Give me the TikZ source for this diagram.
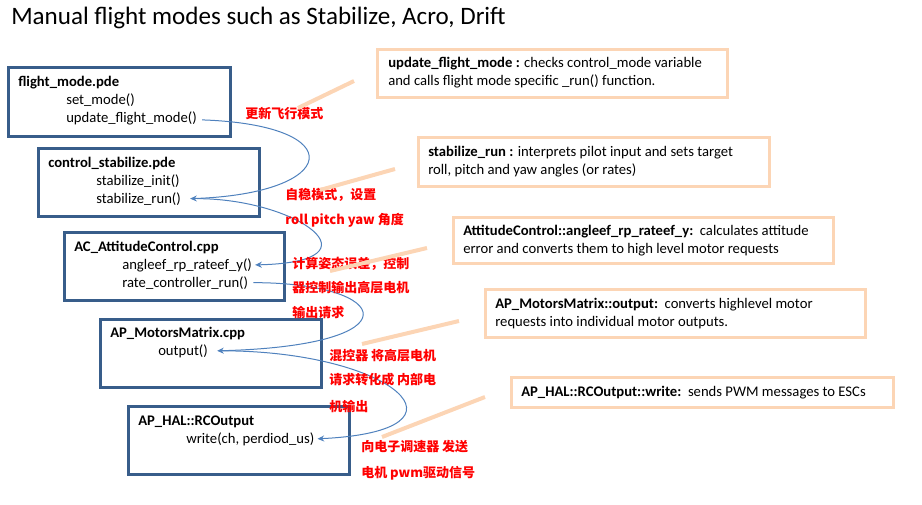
\documentclass[tikz,border=0pt]{standalone}
\usepackage{fontspec}
\setmainfont{Carlito}
\newfontfamily\cjk{Noto Sans CJK SC}
\usetikzlibrary{calc,arrows.meta}

\definecolor{boxblue}{HTML}{385D8A}
\definecolor{notepeach}{HTML}{FCD5B5}
\definecolor{flowblue}{HTML}{4F81BD}
\definecolor{notered}{HTML}{FF0000}

\tikzset{
  codebox/.style={draw=boxblue, line width=2.25pt},
  notebox/.style={draw=notepeach, line width=2.25pt},
  noteline/.style={draw=notepeach, line width=3pt},
  flow/.style={draw=flowblue, line width=0.75pt, -{Stealth[length=5pt,width=4.5pt]}},
  txt/.style={anchor=base west, inner sep=0pt, font=\fontsize{11}{13}\selectfont},
  title/.style={anchor=base west, inner sep=0pt, font=\bfseries\fontsize{11}{13}\selectfont},
  cn/.style={anchor=west, inner sep=0pt, text=notered, font=\cjk\bfseries\fontsize{9.75}{11}\selectfont},
}

\begin{document}
\begin{tikzpicture}[x=0.75pt, y=-0.75pt]
  \useasboundingbox (0,0) rectangle (922,504);
  \node[anchor=base west, inner sep=0pt, font=\fontsize{18.8}{22}\selectfont] (head) at (11,24)
    {Manual flight modes such as Stabilize, Acro, Drift};

  % code boxes
  \begin{scope}
    \draw[codebox] (8,67) rectangle (230,136);
    \node[title] (fm) at (18,86) {flight\_mode.pde};
    \node[txt] (fmset) at (66,104) {set\_mode()};
    \node[txt] (fmupd) at (66,122) {update\_flight\_mode()};

    \draw[codebox] (38,148) rectangle (259,216);
    \node[title] (cs) at (48,167) {control\_stabilize.pde};
    \node[txt] (csinit) at (96,185) {stabilize\_init()};
    \node[txt] (csrun) at (96,203) {stabilize\_run()};

    \draw[codebox] (64,232) rectangle (284,300);
    \node[title] (ac) at (74,251) {AC\_AttitudeControl.cpp};
    \node[txt] (acang) at (122,269) {angleef\_rp\_rateef\_y()};
    \node[txt] (acrate) at (122,287) {rate\_controller\_run()};

    \draw[codebox] (100,319) rectangle (321,387);
    \node[title] (mm) at (110,337) {AP\_MotorsMatrix.cpp};
    \node[txt] (mmout) at (158,355) {output()};

    \draw[codebox] (128,406) rectangle (349,474);
    \node[title] (hal) at (138,425) {AP\_HAL::RCOutput};
    \node[txt] (halwrite) at (186,443) {write(ch, perdiod\_us)};
  \end{scope}

  % call flow
  \draw[flow] ($(fmupd.east)+(5,2)$) .. controls +(150,5) and +(150,-5) .. ($(csrun.east)+(9,0)$);
  \draw[flow] ($(csrun.east)+(16,0)$) .. controls +(100,0) and +(130,-3) .. ($(acang.east)+(3,0)$);
  \draw[flow] ($(acrate.east)+(5,0)$) .. controls +(140,0) and +(200,-5) .. ($(mmout.east)+(9,0)$);
  \draw[flow] ($(mmout.east)+(14,0)$) .. controls +(170,0) and +(167,-8) .. ($(halwrite.east)+(3,0)$);

  % red notes
  \node[cn] (modenote) at (245,114) {更新飞行模式};
  \node[cn] (stabnote) at (285,195) {自稳模式，设置};
  \node[cn] (stabnoteb) at (285,220) {roll pitch yaw 角度};
  \node[cn] (attnote) at (292,264) {计算姿态误差，控制};
  \node[cn] (attnoteb) at (292,288) {器控制输出高层电机};
  \node[cn] (attnotec) at (292,313) {输出请求};
  \node[cn] (mixnote) at (329,356) {混控器 将高层电机};
  \node[cn] (mixnoteb) at (329,380) {请求转化成 内部电};
  \node[cn] (mixnotec) at (329,406) {机输出};
  \node[cn] (escnote) at (361,447) {向电子调速器 发送};
  \node[cn] (escnoteb) at (361,473) {电机 pwm驱动信号};

  % callouts
  \draw[notebox] (377,49) rectangle (727,97);
  \node[txt] (upd) at (388,67) {\textbf{update\_flight\_mode :} checks control\_mode variable};
  \node[txt] (updb) at (388,85) {and calls flight mode specific \_run() function.};
  \coordinate (updtop) at (354,81);
  \coordinate (updend) at (298,108);
  \draw[noteline] (updtop) -- (updend);

  \draw[notebox] (418,137) rectangle (769,186);
  \node[txt] (stab) at (428,156) {\textbf{stabilize\_run :} interprets pilot input and sets target};
  \node[txt] (stabb) at (428,174) {roll, pitch and yaw angles (or rates)};
  \coordinate (stabtop) at (395,169);
  \coordinate (stabend) at (320,190);
  \draw[noteline] (stabtop) -- (stabend);

  \draw[notebox] (453,217) rectangle (833,263);
  \node[txt] (att) at (463,235) {\textbf{AttitudeControl::angleef\_rp\_rateef\_y:}\ \ calculates attitude};
  \node[txt] (attb) at (463,253) {error and converts them to high level motor requests};
  \coordinate (atttop) at (427,248);
  \coordinate (attend) at (330,271);
  \draw[noteline] (atttop) -- (attend);

  \draw[notebox] (485,289) rectangle (865,337);
  \node[txt] (mix) at (495,308) {\textbf{AP\_MotorsMatrix::output:}\ \ converts highlevel motor};
  \node[txt] (mixb) at (495,326) {requests into individual motor outputs.};
  \coordinate (mixtop) at (459,321);
  \coordinate (mixend) at (362,344);
  \draw[noteline] (mixtop) -- (mixend);

  \draw[notebox] (511,377) rectangle (893,407);
  \node[txt] (esc) at (521,396) {\textbf{AP\_HAL::RCOutput::write:}\ \ sends PWM messages to ESCs};
  \coordinate (esctop) at (485,397);
  \coordinate (escend) at (382,437);
  \draw[noteline] (esctop) -- (escend);
\end{tikzpicture}
\end{document}
